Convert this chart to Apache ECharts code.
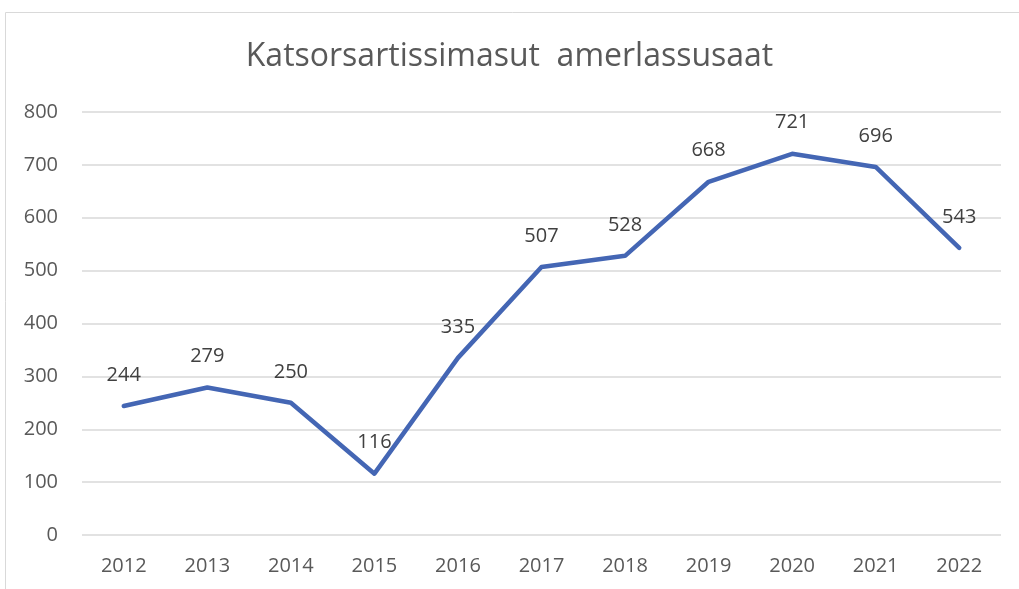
<!DOCTYPE html>
<html>
<head>
<meta charset="utf-8">
<script src="https://cdn.jsdelivr.net/npm/echarts@6/dist/echarts.min.js"></script>
<style>
  html, body { margin: 0; padding: 0; background: #fff; }
  #chart { width: 1019px; height: 589px; }
</style>
</head>
<body>
<div id="chart"></div>
<script>
const years = ['2012', '2013', '2014', '2015', '2016', '2017', '2018', '2019', '2020', '2021', '2022']
const counts = [244, 279, 250, 116, 335, 507, 528, 668, 721, 696, 543]

const chart = echarts.init(document.getElementById('chart'))
chart.setOption({
  animation: false,
  textStyle: { fontFamily: 'Open Sans, Noto Sans, sans-serif' },
  graphic: [{
    type: 'rect',
    shape: { x: 5.5, y: 12.5, width: 1100, height: 700 },
    style: { fill: 'none', stroke: '#d9d9d9', lineWidth: 1 },
    silent: true
  }],
  title: {
    text: 'Katsorsartissimasut  amerlassusaat',
    left: 'center',
    top: 36,
    textStyle: { fontSize: 32, fontWeight: 'normal', color: '#595959' }
  },
  grid: { left: 82, right: 18, top: 112, bottom: 54 },
  xAxis: {
    type: 'category',
    data: years,
    boundaryGap: true,
    axisLine: { show: false },
    axisTick: { show: false },
    axisLabel: { color: '#595959', fontSize: 20, margin: 21 }
  },
  yAxis: {
    type: 'value',
    min: 0,
    max: 800,
    interval: 100,
    axisLine: { show: false },
    axisTick: { show: false },
    axisLabel: { color: '#595959', fontSize: 20, margin: 24 },
    splitLine: { lineStyle: { color: '#d9d9d9', width: 1.5 } }
  },
  series: [{
    type: 'line',
    data: counts,
    symbol: 'circle',
    symbolSize: 2,
    showSymbol: true,
    itemStyle: { color: 'rgba(68,102,180,0)' },
    lineStyle: { color: '#4466b4', width: 4.5, cap: 'round', join: 'round' },
    label: {
      show: true,
      position: 'top',
      distance: 20,
      color: '#404040',
      fontSize: 20
    }
  }]
})
</script>
</body>
</html>
